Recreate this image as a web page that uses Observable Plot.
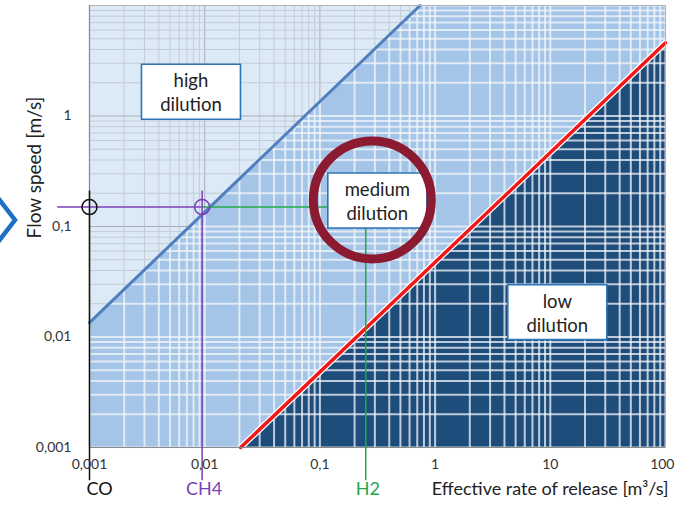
<!DOCTYPE html>
<html><head><meta charset="utf-8">
<script src="https://cdn.jsdelivr.net/npm/d3@7"></script>
<script src="https://cdn.jsdelivr.net/npm/@observablehq/plot@0.6"></script>
<style>
body{margin:0;background:#fff;font-family:Lato,sans-serif;}
#wrap{position:relative;width:675px;height:506px;overflow:hidden;}
#chev{position:absolute;left:0;top:0;}
</style></head><body><div id="wrap">
<svg id="chev" width="30" height="506"><polyline points="-8,190 15,220 -8,250" fill="none" stroke="#1f6fc5" stroke-width="4.5"/></svg>
</div>
<script>
// axes
const xDomain = [0.001, 100];
const yDomain = [0.001, 10];
const xTicks = [0.001, 0.01, 0.1, 1, 10, 100];
const xTickLabels = ["0,001", "0,01", "0,1", "1", "10", "100"];
const yTicks = [0.001, 0.01, 0.1, 1];
const yTickLabels = ["0,001", "0,01", "0,1", "1"];

// boundary lines
const upperQ = [0.001, 0.74];
const upperU = [0.0135, 10];
const lowerQ = [0.0205, 100];
const lowerU = [0.001, 4.6];

// gases
const gasNames = ["CO", "CH4", "H2"];
const gasQ = [0.001, 0.0095, 0.25];
const gasColors = ["#111111", "#7b3fb8", "#22a84a"];
const pointU = 0.15;
const leaderTopU = 0.21;
const leaderBottomU = 0.0005;
const leaderLeftQ = 0.00053;

// region labels
const regionNames = ["high\ndilution", "medium\ndilution", "low\ndilution"];
const regionQ = [0.0076, 0.315, 11.5];
const regionU = [1.66, 0.172, 0.0168];
const ringQ = 0.285, ringU = 0.174;

const cMed = "#a4c5e7", cLow = "#1e4d7b", cHigh = "#dce9f6";

const lg = Math.log10;
function upperAt(q) {
  const t = (lg(q) - lg(upperQ[0])) / (lg(upperQ[1]) - lg(upperQ[0]));
  return Math.pow(10, lg(upperU[0]) + t * (lg(upperU[1]) - lg(upperU[0])));
}
function upperInv(u) {
  const t = (lg(u) - lg(upperU[0])) / (lg(upperU[1]) - lg(upperU[0]));
  return Math.pow(10, lg(upperQ[0]) + t * (lg(upperQ[1]) - lg(upperQ[0])));
}

const gridX = d3.scaleLog().domain(xDomain).ticks();
const gridY = d3.scaleLog().domain(yDomain).ticks();
const isMajor = v => Math.abs(lg(v) - Math.round(lg(v))) < 1e-6;

const grayV = gridX.filter(v => upperAt(v) < yDomain[1]).map(v => ({x: v, y1: Math.max(upperAt(v), yDomain[0]), y2: yDomain[1], major: isMajor(v)}));
const grayH = gridY.filter(w => upperInv(w) > xDomain[0]).map(w => ({y: w, x1: xDomain[0], x2: Math.min(upperInv(w), xDomain[1]), major: isMajor(w)}));

const highPoly = upperQ.map((q, i) => ({q, u: upperU[i]}));
const lowPoly = lowerQ.map((q, i) => ({q, u: lowerU[i]}));
const gases = gasNames.map((n, i) => ({n, q: gasQ[i], c: gasColors[i]}));
const regions = regionNames.map((n, i) => ({n, q: regionQ[i], u: regionU[i]}));
const xLabels = xTicks.map((v, i) => ({v, t: xTickLabels[i]}));

const boxSymbol = {draw(ctx) { ctx.rect(-49.5, -27.5, 99, 55); }};

const chart = Plot.plot({
  width: 675, height: 506,
  marginLeft: 89, marginRight: 10, marginTop: 5, marginBottom: 59,
  style: {fontFamily: "Lato, sans-serif", background: "transparent", overflow: "visible"},
  x: {type: "log", domain: xDomain, axis: null},
  y: {type: "log", domain: yDomain, axis: null},
  color: {type: "identity"},
  marks: [
    Plot.frame({fill: cMed}),
    Plot.areaY(lowPoly, {x: "q", y1: yDomain[0], y2: "u", fill: cLow}),
    Plot.ruleX(gridX, {stroke: "#f4f6f9", strokeOpacity: 0.75, strokeWidth: 2}),
    Plot.ruleY(gridY, {stroke: "#f4f6f9", strokeOpacity: 0.75, strokeWidth: 2}),
    Plot.areaY(highPoly, {x: "q", y1: "u", y2: yDomain[1], fill: cHigh}),
    Plot.ruleX(grayV, {x: "x", y1: "y1", y2: "y2", stroke: d => d.major ? "#a8aeb5" : "#c3ccd6", strokeWidth: 1}),
    Plot.ruleY(grayH, {y: "y", x1: "x1", x2: "x2", stroke: d => d.major ? "#a8aeb5" : "#c3ccd6", strokeWidth: 1}),
    Plot.line(highPoly, {x: "q", y: "u", stroke: "#4f7fbd", strokeWidth: 3}),
    Plot.line(lowPoly, {x: "q", y: "u", stroke: "#ffffff", strokeWidth: 6}),
    Plot.line(lowPoly, {x: "q", y: "u", stroke: "#f01818", strokeWidth: 3.5}),
    Plot.frame({stroke: "#b5b5b5"}),
    Plot.ruleX([xDomain[0]], {stroke: "#8a8a8a", strokeWidth: 1.2}),
    Plot.ruleY([yDomain[0]], {stroke: "#8a8a8a", strokeWidth: 1.2}),
    // leaders
    Plot.ruleY([pointU], {x1: gasQ[1], x2: gasQ[2], stroke: gasColors[2], strokeWidth: 1.5}),
    Plot.ruleY([pointU], {x1: leaderLeftQ, x2: gasQ[1], stroke: gasColors[1], strokeWidth: 1.5, clip: false}),
    Plot.ruleX([gasQ[2]], {y1: pointU, y2: leaderBottomU, stroke: gasColors[2], strokeWidth: 1.5, clip: false}),
    Plot.ruleX(gases.slice(0, 2), {x: "q", y1: leaderTopU, y2: leaderBottomU, stroke: "c", strokeWidth: 1.5, clip: false}),
    Plot.dot(gases.slice(0, 2), {x: "q", y: pointU, r: 7.5, stroke: "c", strokeWidth: 1.5, fill: "none"}),
    // region boxes
    Plot.dot(regions, {x: "q", y: "u", symbol: boxSymbol, fill: "#ffffff", stroke: "#2e75b6", strokeWidth: 1.6}),
    Plot.text(regions, {x: "q", y: "u", text: "n", fontSize: 18.5, lineHeight: 1.3, fill: "#222"}),
    Plot.dot([ringQ], {x: d => d, y: ringU, r: 59, stroke: "#8c1a30", strokeWidth: 9, fill: "none"}),
    // tick labels
    Plot.text(xLabels.slice(0, -1), {x: "v", text: "t", frameAnchor: "bottom", dy: 21, fontSize: 14, fill: "#333"}),
    Plot.text(xLabels.slice(-1), {x: "v", text: "t", frameAnchor: "bottom", dy: 21, dx: 9, textAnchor: "end", fontSize: 14, fill: "#333"}),
    Plot.text(yTicks, {y: d => d, text: (d, i) => yTickLabels[i], frameAnchor: "left", dx: -18, textAnchor: "end", fontSize: 14, fill: "#333"}),
    // bottom labels
    Plot.text(gases.slice(0, 1), {x: "q", text: "n", fill: "c", frameAnchor: "bottom", dy: 47, dx: -3, fontSize: 18, textAnchor: "start"}),
    Plot.text(gases.slice(1), {x: "q", text: "n", fill: "c", frameAnchor: "bottom", dy: 47, dx: 2, fontSize: 18, textAnchor: "middle"}),
    Plot.text(["Effective rate of release [m³/s]"], {text: d => d, frameAnchor: "bottom-right", dy: 47, dx: 3, textAnchor: "end", fontSize: 18, fill: "#222"}),
    Plot.text(["Flow speed [m/s]"], {frameAnchor: "top-left", text: d => d, rotate: -90, dx: -62, dy: 162, textAnchor: "middle", fontSize: 19, fill: "#222"})
  ]
});
document.getElementById("wrap").prepend(chart);
</script>
</body></html>
